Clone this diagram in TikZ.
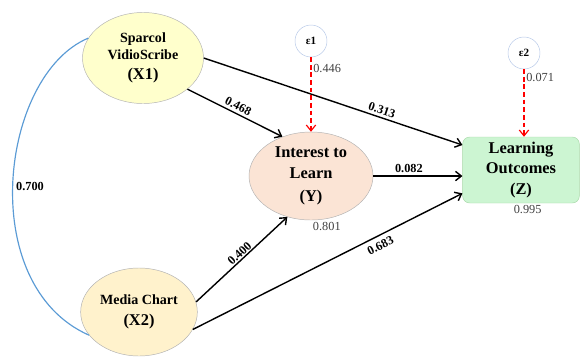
\documentclass[tikz,border=0pt]{standalone}
\usepackage{fontspec}
\setmainfont{Liberation Serif}
\usetikzlibrary{shapes.geometric,arrows.meta}
\definecolor{sparcolfill}{HTML}{FFFFCC}
\definecolor{chartfill}{HTML}{FFF2CC}
\definecolor{interestfill}{HTML}{FBE4D5}
\definecolor{outcomefill}{HTML}{CCF5D2}
\definecolor{outcomeline}{HTML}{A8D8A8}
\definecolor{corrline}{HTML}{5B9BD5}
\definecolor{errline}{HTML}{B4C7E7}
\begin{document}
\begin{tikzpicture}[x=0.03cm, y=-0.03cm, >={Straight Barb[length=5pt,width=8pt]},
    latent/.style={draw=gray!60, ellipse, inner sep=0pt, align=center},
    errnode/.style={draw=errline, circle, minimum size=0.96cm, inner sep=0pt, font=\bfseries\fontsize{9.5}{10}\selectfont},
    pathline/.style={->, line width=1.2pt},
    errpath/.style={->, red, line width=1pt, dash pattern=on 4pt off 2.5pt},
    coef/.style={font=\bfseries\fontsize{10.5}{12}\selectfont, inner sep=1pt},
    resid/.style={font=\fontsize{10.5}{12}\selectfont, text=black!75, inner sep=1.5pt}]
    \useasboundingbox (0,0) rectangle (580,356);

    % exogenous variables
    \node[latent, fill=sparcolfill, minimum width=3.63cm, minimum height=2.73cm,
        font=\bfseries\fontsize{12}{15}\selectfont] (X1) at (143,58)
        {Sparcol\\VidioScribe\\[2pt]\fontsize{14}{17}\selectfont (X1)};
    \node[latent, fill=chartfill, minimum width=3.5cm, minimum height=2.64cm,
        font=\bfseries\fontsize{12}{15}\selectfont] (X2) at (139,312)
        {Media Chart\\[3pt]\fontsize{14}{17}\selectfont (X2)};

    % endogenous variables
    \node[latent, fill=interestfill, minimum width=3.72cm, minimum height=2.64cm,
        font=\bfseries\fontsize{14}{18}\selectfont] (Y) at (311,176)
        {Interest to\\Learn\\[2pt](Y)};
    \node[draw=outcomeline, fill=outcomefill, rounded corners=6pt, minimum width=3.5cm, minimum height=1.98cm,
        inner sep=0pt, align=center, font=\bfseries\fontsize{14}{17.5}\selectfont] (Z) at (521,170)
        {Learning\\Outcomes\\(Z)};

    % error terms
    \node[errnode] (e1) at (311,41) {ε1};
    \node[errnode] (e2) at (524,53) {ε2};

    % correlation
    \draw[corrline, line width=1pt] (X1.160) .. controls (0,75) and (-25,285) .. (X2.205);
    \node[coef] (r12) at (30,186) {0.700};

    % paths
    \draw[pathline] (X1.-35) -- (Y.126) node[coef, midway, above=1pt, sloped] {0.468};
    \draw[pathline] (X1.east) -- ([yshift=0.75cm]Z.west) node[coef, pos=0.68, above=1pt, sloped] {0.313};
    \draw[pathline] (Y.east) -- (Y.east -| Z.west) node[coef, pos=0.4, above=1pt] {0.082};
    \draw[pathline] (X2.10) -- (Y.240) node[coef, pos=0.52, above=0pt, sloped] {0.400};
    \draw[pathline] (X2.-18) -- ([yshift=-0.7cm]Z.west) node[coef, pos=0.68, below=3pt, sloped] {0.683};

    % error paths
    \draw[errpath] (e1.south) -- (Y.north) node[resid, pos=0.15, right] {0.446};
    \draw[errpath] (e2.south) -- (e2.south |- Z.north) node[resid, pos=0.12, right] {0.071};

    % R-squared
    \node[resid, anchor=north west] (r2y) at (Y.south) {0.801};
    \node[resid, anchor=north, xshift=0.2cm] (r2z) at (Z.south) {0.995};
\end{tikzpicture}
\end{document}
